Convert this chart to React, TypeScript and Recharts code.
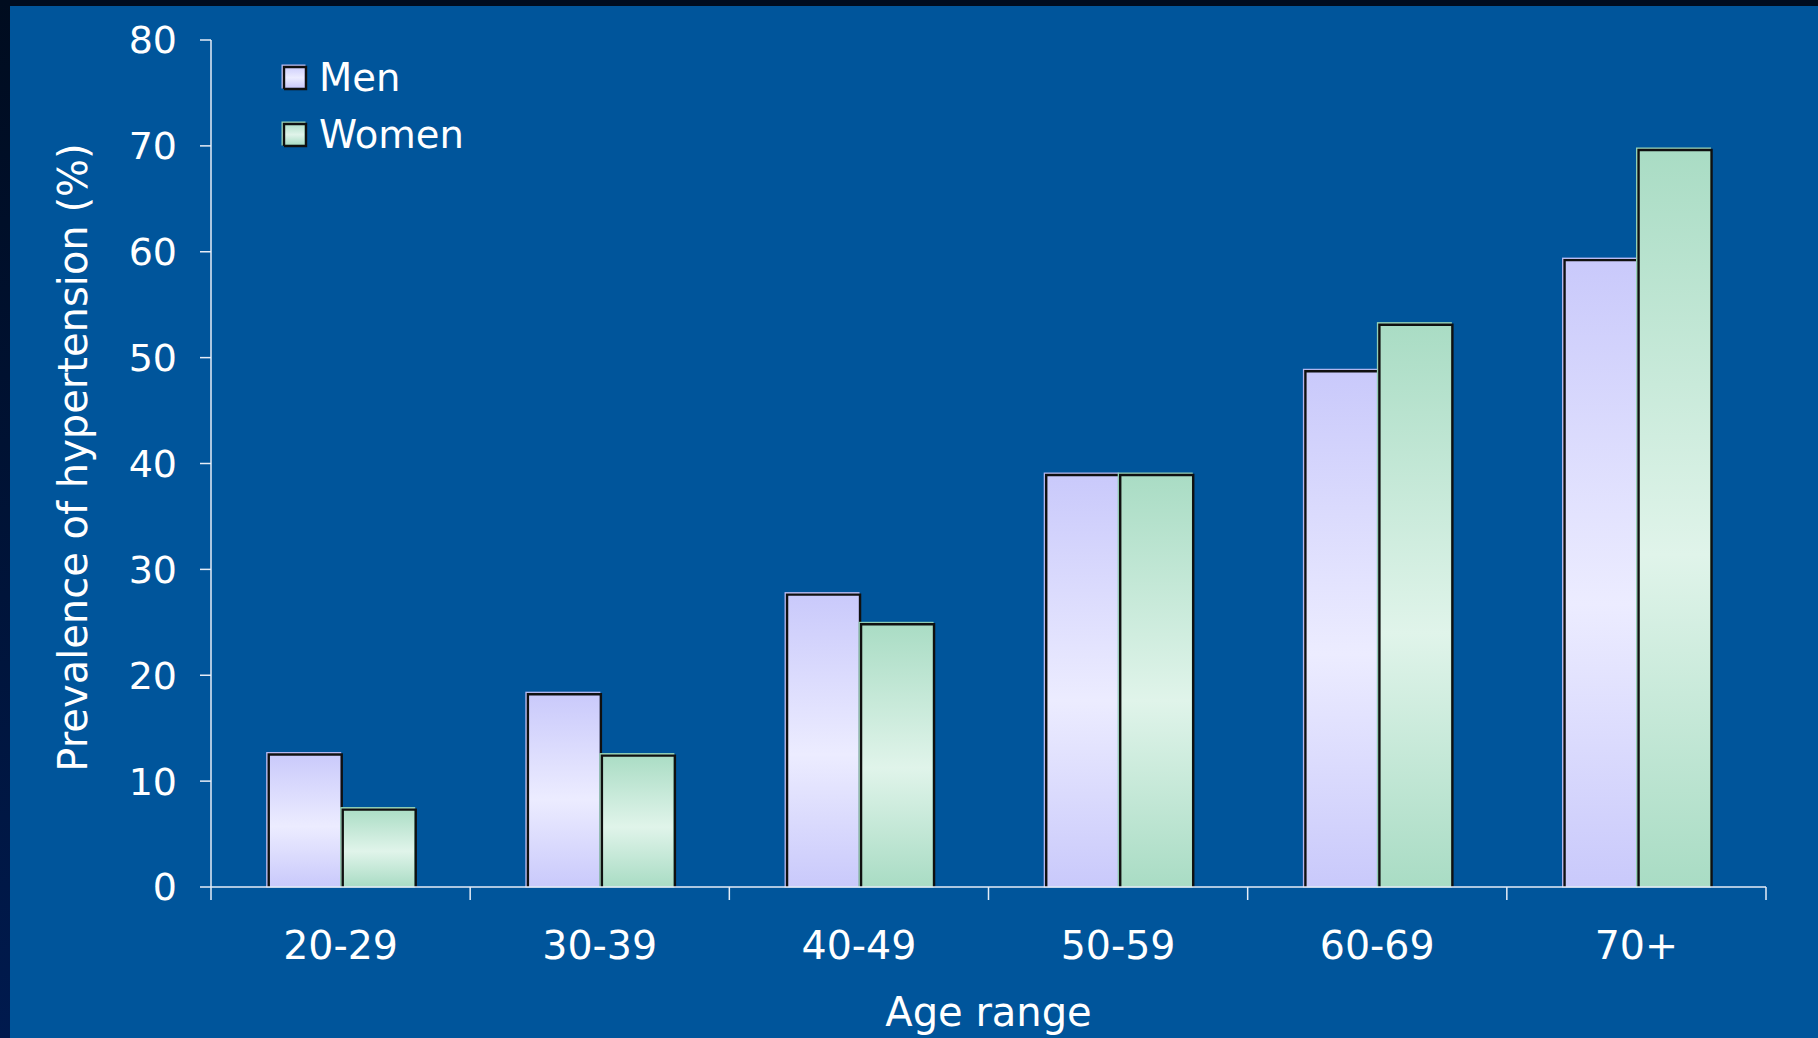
import React from 'react';
import { BarChart, Bar, XAxis, YAxis } from 'recharts';

// Prevalence of hypertension (%) by age range
const ageGroups = ['20-29', '30-39', '40-49', '50-59', '60-69', '70+'];
const menPrevalence = [12.7, 18.4, 27.8, 39.1, 48.9, 59.4];
const womenPrevalence = [7.5, 12.6, 25.0, 39.1, 53.3, 69.8];
const seriesNames = ['Men', 'Women'];
const yTicks = [0, 10, 20, 30, 40, 50, 60, 70, 80];

const data = ageGroups.map((age, i) => ({
  age,
  men: menPrevalence[i],
  women: womenPrevalence[i],
}));

const W = 1818;
const H = 1038;
const MARGIN = { top: 40, right: 52, bottom: 0, left: 0 };
const Y_AXIS_W = 211;
const X_AXIS_H = 151;
const PLOT_W = W - MARGIN.left - MARGIN.right - Y_AXIS_W;
const FONT = '"DejaVu Sans", Verdana, sans-serif';
const BG = '#00559b';
const AXIS = '#e6edf7';

const SERIES = [
  { key: 'men', gradient: 'menFill', rim: '#b9b9f2' },
  { key: 'women', gradient: 'womenFill', rim: '#94d3b6' },
];

// Bar with a thin light rim and a dark outline nudged down-right
function ShadowBar(props: any) {
  const { x, y, width, height, gradientId, rim } = props;
  if (!height || height <= 0) return null;
  return (
    <g>
      <rect x={x} y={y} width={width} height={height} fill={`url(#${gradientId})`} stroke={rim} strokeWidth={1} />
      <path
        d={`M${x + 2},${y + height} V${y + 2} H${x + width + 1} V${y + height}`}
        fill="none"
        stroke="#101010"
        strokeWidth={2.4}
      />
    </g>
  );
}

// Category label with tick marks at the category boundaries
function AgeTick(props: any) {
  const { x, y, payload, index } = props;
  const band = PLOT_W / ageGroups.length;
  return (
    <g>
      {index === 0 && (
        <line x1={x - band / 2} y1={y} x2={x - band / 2} y2={y + 13} stroke={AXIS} strokeWidth={1.5} />
      )}
      <line x1={x + band / 2} y1={y} x2={x + band / 2} y2={y + 13} stroke={AXIS} strokeWidth={1.5} />
      <text x={x} y={y + 72} textAnchor="middle" fill="#ffffff" fontSize={39.5} fontFamily={FONT}>
        {payload.value}
      </text>
    </g>
  );
}

function SeriesLegend() {
  return (
    <svg
      width={220}
      height={120}
      style={{ position: 'absolute', left: 282, top: 60, overflow: 'visible' }}
    >
      {SERIES.map((s, i) => {
        const top = 5 + i * 57;
        return (
          <g key={s.key}>
            <rect x={0} y={top} width={23} height={23} fill={`url(#${s.gradient})`} stroke={s.rim} strokeWidth={1} />
            <path d={`M2,${top + 24} V${top + 2} H24 V${top + 24} H2`} fill="none" stroke="#101010" strokeWidth={2.4} />
            <text x={37} y={top + 26} fill="#ffffff" fontSize={38.5} fontFamily={FONT}>
              {seriesNames[i]}
            </text>
          </g>
        );
      })}
    </svg>
  );
}

function YTitle(props: any) {
  const vb = props.viewBox || { x: 0, y: MARGIN.top, width: Y_AXIS_W, height: 847 };
  const cx = vb.x + 73;
  const cy = vb.y + vb.height / 2 - 6;
  return (
    <text
      x={cx}
      y={cy}
      transform={`rotate(-90, ${cx}, ${cy})`}
      textAnchor="middle"
      dominantBaseline="central"
      fill="#ffffff"
      fontSize={40}
      fontFamily={FONT}
    >
      Prevalence of hypertension (%)
    </text>
  );
}

export default function App() {
  return (
    <div style={{ position: 'absolute', left: 0, top: 0, width: W, height: H, background: BG, overflow: 'hidden' }}>
      <svg width={0} height={0} style={{ position: 'absolute' }}>
        <defs>
          <linearGradient id="menFill" x1="0" y1="0" x2="0" y2="1">
            <stop offset="0%" stopColor="#c9c9fb" />
            <stop offset="55%" stopColor="#ececff" />
            <stop offset="100%" stopColor="#c9c9fb" />
          </linearGradient>
          <linearGradient id="womenFill" x1="0" y1="0" x2="0" y2="1">
            <stop offset="0%" stopColor="#a9dcc4" />
            <stop offset="55%" stopColor="#e0f4ea" />
            <stop offset="100%" stopColor="#a9dcc4" />
          </linearGradient>
        </defs>
      </svg>
      <div style={{ position: 'absolute', left: 0, top: 0, width: W, height: 6, background: '#000c1f' }} />
      <div
        style={{
          position: 'absolute',
          left: 0,
          top: 0,
          width: 10,
          height: H,
          background: 'linear-gradient(#000c1f, #001a4e)',
        }}
      />
      <div style={{ position: 'absolute', left: 0, top: 0 }}>
        <BarChart width={W} height={H} data={data} margin={MARGIN} barCategoryGap="21.5%" barGap={0}>
          <YAxis
            width={Y_AXIS_W}
            domain={[0, 80]}
            ticks={yTicks}
            interval={0}
            tickSize={11}
            tickMargin={23}
            axisLine={{ stroke: AXIS, strokeWidth: 1.5 }}
            tickLine={{ stroke: AXIS, strokeWidth: 1.5 }}
            tick={{ fill: '#ffffff', fontSize: 38, fontFamily: FONT }}
            label={{ content: (p: any) => <YTitle {...p} /> }}
          />
          <XAxis
            dataKey="age"
            height={X_AXIS_H}
            interval={0}
            tickSize={0}
            tickMargin={0}
            tickLine={false}
            axisLine={{ stroke: AXIS, strokeWidth: 1.5 }}
            tick={<AgeTick />}
            label={{
              value: 'Age range',
              position: 'insideBottom',
              offset: 12,
              fill: '#ffffff',
              fontSize: 40,
              fontFamily: FONT,
            }}
          />
          <Bar
            dataKey="men"
            name={seriesNames[0]}
            isAnimationActive={false}
            shape={(p: any) => <ShadowBar {...p} gradientId={SERIES[0].gradient} rim={SERIES[0].rim} />}
          />
          <Bar
            dataKey="women"
            name={seriesNames[1]}
            isAnimationActive={false}
            shape={(p: any) => <ShadowBar {...p} gradientId={SERIES[1].gradient} rim={SERIES[1].rim} />}
          />
        </BarChart>
      </div>
      <SeriesLegend />
    </div>
  );
}
